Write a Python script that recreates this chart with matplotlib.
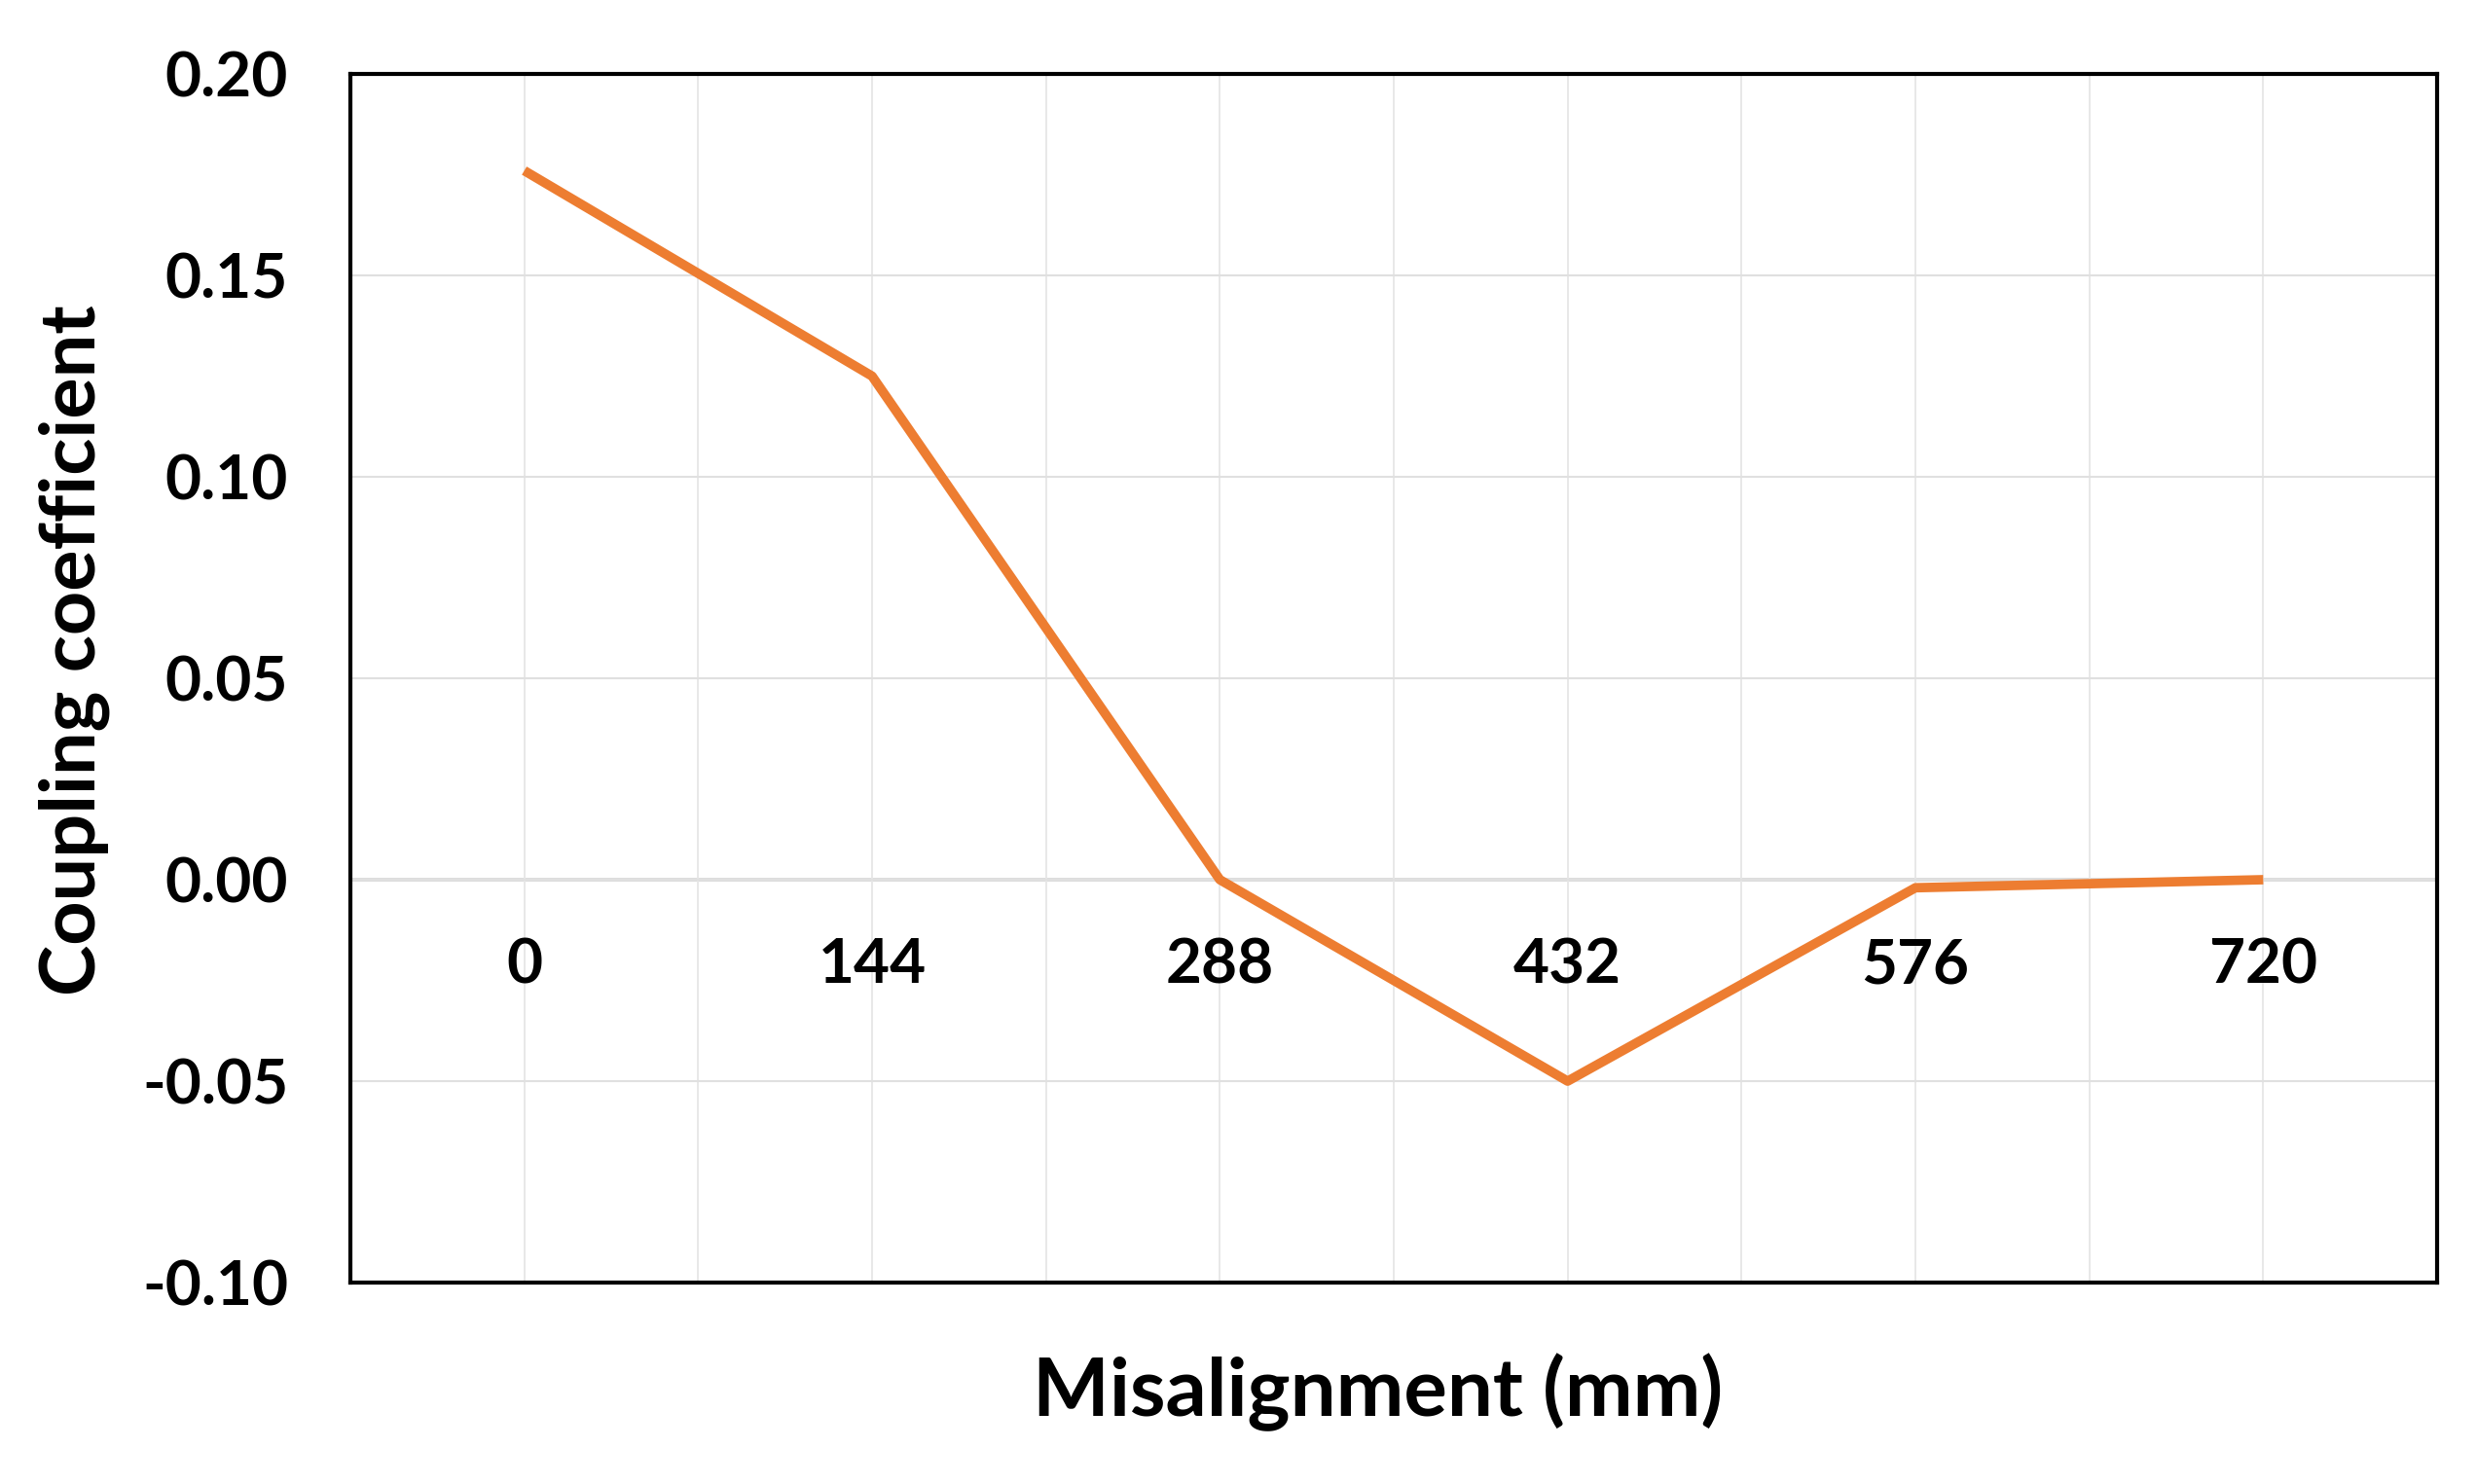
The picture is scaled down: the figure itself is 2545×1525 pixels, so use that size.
"""
Coupling coefficient vs misalignment (Excel-style line chart).
"""
import matplotlib
matplotlib.use("Agg")
import matplotlib.pyplot as plt
import matplotlib.transforms as mtransforms
import numpy as np

# ── data ─────────────────────────────────────
misalignment = [0, 144, 288, 432, 576, 720]
coupling     = [0.176, 0.125, 0.0, -0.050, -0.002, 0.0]
y_ticks      = [-0.10, -0.05, 0.00, 0.05, 0.10, 0.15, 0.20]
grid_x       = [0, 72, 144, 216, 288, 360, 432, 504, 576, 648, 720]

LINE_COLOR = "#ED7D31"
FONT = "Lato"

W, H, DPI = 2545, 1525, 100
fig = plt.figure(figsize=(W / DPI, H / DPI), dpi=DPI)
fig.patch.set_facecolor("white")

# plot area in pixels: left 360, right 2504, top 76, bottom 1318
ax = fig.add_axes([360 / W, 1 - 1318 / H, (2504 - 360) / W, (1318 - 76) / H])

ax.set_xlim(-72, 792)
ax.set_ylim(-0.10, 0.20)

# gridlines
ax.set_xticks(grid_x)
ax.set_yticks(y_ticks)
ax.grid(True, axis="x", color="#e6e6e6", linewidth=1.3, zorder=0)
ax.grid(True, axis="y", color="#e0e0e0", linewidth=1.5, zorder=0)
ax.axhline(0, color="#d4d4d4", linewidth=2.6, zorder=1)

ax.plot(misalignment, coupling, color=LINE_COLOR, linewidth=7,
        solid_joinstyle="round", solid_capstyle="butt", zorder=3)

# y tick labels
ax.set_yticklabels([f"{v:.2f}" for v in y_ticks])
ax.tick_params(axis="y", length=0, pad=46, labelsize=46)
ax.tick_params(axis="x", length=0, labelbottom=False)
for lbl in ax.get_yticklabels():
    lbl.set_fontfamily(FONT)
    lbl.set_fontweight("bold")

# x tick labels sit under the zero line (axis crosses at 0)
offset = mtransforms.ScaledTranslation(0, -0.88, fig.dpi_scale_trans)
for xv in misalignment:
    ax.text(xv, 0, str(xv), transform=ax.transData + offset,
            ha="center", va="center", fontsize=46, fontweight="bold",
            family=FONT, zorder=4)

for spine in ax.spines.values():
    spine.set_color("black")
    spine.set_linewidth(3)

fig.text(76 / W, 1 - 668 / H, "Coupling coefficient", rotation=90,
         ha="center", va="center", fontsize=57, fontweight="bold", family=FONT)
fig.text(1416 / W, 1 - 1431 / H, "Misalignment (mm)",
         ha="center", va="center", fontsize=60, fontweight="bold", family=FONT)

fig.savefig("out.png", dpi=DPI, facecolor="white")
plt.close(fig)
